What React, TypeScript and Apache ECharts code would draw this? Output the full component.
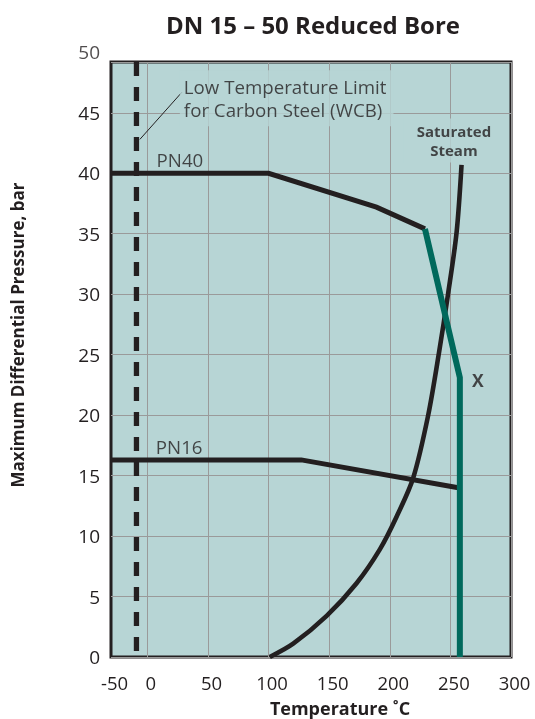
import React, { useEffect, useRef } from "react";
import * as echarts from "echarts";

// Axis ticks (the left edge of the temperature axis is labelled "-50" in the source chart)
const xTickValues = [-30, 0, 50, 100, 150, 200, 250, 300];
const xTickLabels = ["-50", "0", "50", "100", "150", "200", "250", "300"];
const xGridValues = [0, 50, 100, 150, 200, 250, 300];
const yTopLabel = 50; // printed just above the frame, which ends at about 49.2 bar
const yMax = 49.2;

// Series (temperature °C, pressure bar)
const pn40 = [[-30, 40], [100, 40], [189, 37.2], [229, 35.4]];
const pn16 = [[-30, 16.3], [127, 16.3], [256.5, 14.0]];
const limitX = [[229, 35.4], [257.8, 23.1], [257.8, 0]];
const steam = [
  [101, 0], [120.3, 1.1], [147.9, 3.4], [172.6, 6.1], [191.8, 8.9], [205.6, 11.6],
  [219.3, 14.8], [231.7, 20.0], [240.5, 25.1], [248.2, 30.1], [255.1, 35.1], [259.2, 40.7],
];
const wcbLimit = [[-9, yMax], [-9, 0]];
const leader = [[-6.2, 42.8], [28.5, 46.7]];

// Annotation anchors
const pn40Label = [7.6, 41.1];
const pn16Label = [7.0, 17.4];
const wcbLabel = [26.8, 46.2];
const steamLabel = [252.9, 42.7];
const xLabel = [272.7, 22.9];

const FONT = "'Open Sans', 'Noto Sans', sans-serif";
const INK = "#231f20";
const BG = "#b7d5d5";
const TEAL = "#00695c";
const GRIDLINE = "#9a9a9a";

export default function App() {
  const ref = useRef<HTMLDivElement>(null);
  useEffect(() => {
    if (!ref.current) return;
    const chart = echarts.init(ref.current, undefined, { renderer: "svg" });
    const lineSeries = (name: string, data: number[][], color: string, width: number, extra: any = {}) => ({
      type: "line",
      name,
      data,
      symbol: "none",
      lineStyle: { color, width, cap: "butt", join: "miter", ...(extra.lineStyle || {}) },
      z: extra.z ?? 3,
      smooth: extra.smooth ?? false,
      silent: true,
    });
    const note = (value: number[], text: string, opts: any = {}) => ({
      value,
      label: {
        show: true,
        position: "right",
        distance: 0,
        formatter: text,
        fontSize: 18.7,
        color: INK,
        fontFamily: FONT,
        ...opts,
      },
    });
    chart.setOption({
      animation: false,
      textStyle: { fontFamily: FONT },
      grid: {
        left: 111,
        right: 24,
        top: 62,
        bottom: 62,
        show: true,
        backgroundColor: BG,
        borderColor: INK,
        borderWidth: 3,
      },
      xAxis: {
        type: "value",
        min: -30,
        max: 300,
        axisLine: { show: false },
        axisTick: { show: false, customValues: xGridValues },
        axisLabel: {
          customValues: xTickValues,
          formatter: (v: number) => {
            const i = xTickValues.indexOf(v);
            return i >= 0 ? xTickLabels[i] : String(v);
          },
          color: INK,
          fontSize: 18.5,
          fontFamily: FONT,
          margin: 16,
          padding: [0, 0, 0, 7],
        },
        splitLine: { show: true, lineStyle: { color: GRIDLINE, width: 1 } },
      },
      yAxis: {
        type: "value",
        min: 0,
        max: yMax,
        interval: 5,
        axisLine: { show: false },
        axisTick: { show: false },
        axisLabel: {
          color: INK,
          fontSize: 19,
          fontFamily: FONT,
          margin: 11,
          padding: [0, 0, 10, 0],
          showMaxLabel: false,
        },
        splitLine: { show: true, lineStyle: { color: GRIDLINE, width: 1 } },
      },
      graphic: [
        {
          type: "text",
          x: 313,
          y: 24,
          style: {
            text: "DN 15 – 50 Reduced Bore",
            fontSize: 24,
            fontWeight: "bold",
            fontFamily: FONT,
            fill: INK,
            textAlign: "center",
            textVerticalAlign: "middle",
          },
        },
        {
          type: "text",
          x: 340,
          y: 708,
          style: {
            text: "Temperature ˚C",
            fontSize: 18,
            fontWeight: "bold",
            fontFamily: FONT,
            fill: INK,
            textAlign: "center",
            textVerticalAlign: "middle",
          },
        },
        {
          type: "text",
          x: 17.5,
          y: 335,
          rotation: Math.PI / 2,
          style: {
            text: "Maximum Differential Pressure, bar",
            fontSize: 17,
            fontWeight: "bold",
            fontFamily: FONT,
            fill: INK,
            textAlign: "center",
            textVerticalAlign: "middle",
          },
        },
      ],
      series: [
        lineSeries("WCB limit", wcbLimit, INK, 5.3, { lineStyle: { type: [14, 11] }, z: 2 }),
        lineSeries("Leader", leader, INK, 1, { z: 2 }),
        lineSeries("PN40", pn40, INK, 5),
        lineSeries("PN16", pn16, INK, 5),
        lineSeries("Saturated Steam", steam, INK, 4.6, { smooth: 0.3 }),
        lineSeries("X", limitX, TEAL, 6, { z: 4 }),
        {
          type: "scatter",
          name: "labels",
          symbolSize: 0,
          silent: true,
          clip: false,
          z: 5,
          data: [
            note(pn40Label, "PN40"),
            note(pn16Label, "PN16"),
            note(wcbLabel, "Low Temperature Limit\nfor Carbon Steel (WCB)", {
              lineHeight: 23,
              backgroundColor: BG,
              padding: [0, 7, 10, 4],
              align: "left",
            }),
            note(steamLabel, "Saturated\nSteam", {
              position: "inside",
              fontSize: 15,
              fontWeight: "bold",
              lineHeight: 19,
              backgroundColor: BG,
              padding: [2, 13, 4, 13],
              align: "center",
            }),
            note(xLabel, "X", { position: "inside", fontSize: 17.5, fontWeight: "bold" }),
            note([-30, yTopLabel], String(yTopLabel), { position: "left", distance: 11, fontSize: 19 }),
          ],
        },
      ],
    });
    return () => chart.dispose();
  }, []);
  return (
    <div
      ref={ref}
      style={{ position: "fixed", left: 0, top: 0, width: 535, height: 719 }}
    />
  );
}
